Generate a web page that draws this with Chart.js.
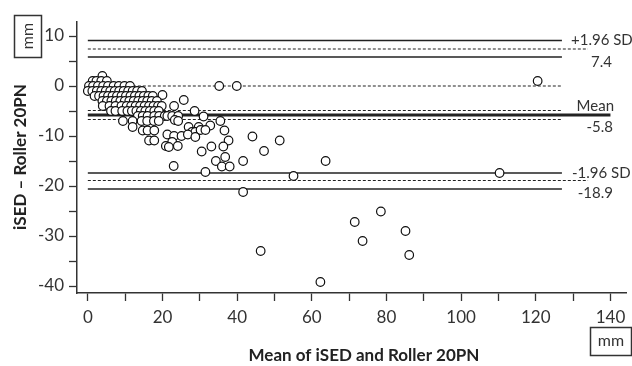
<!DOCTYPE html>
<html>
<head>
<meta charset="utf-8">
<script src="https://cdn.jsdelivr.net/npm/chart.js@4.4.1/dist/chart.umd.min.js"></script>
<style>
html,body{margin:0;padding:0;background:#fff;}
#wrap{width:632px;height:366px;}
</style>
</head>
<body>
<div id="wrap"><canvas id="baChart" width="632" height="366"></canvas></div>
<script>
// 측정값 (mean, difference)
const meanVals = [
	3.9,
	1.3,2.3,3.6,5.1,120.5,
	0.3,1.4,2.7,4.1,5.4,6.9,8.3,9.8,11.3,35.2,39.9,
	0.0,1.2,2.4,3.6,4.8,6.0,7.2,8.4,9.6,10.8,12.0,13.2,14.5,
	1.8,3.0,4.2,5.4,6.6,7.8,9.0,10.2,11.4,12.6,13.8,15.0,16.2,17.4,20.0,
	3.9,5.1,6.3,7.5,8.7,9.9,11.1,12.3,13.5,14.7,15.9,17.1,18.5,25.7,
	4.0,5.8,7.4,9.0,10.4,11.6,12.8,14.0,15.2,16.4,17.6,18.8,19.8,23.1,
	6.2,7.4,9.2,10.6,11.8,13.0,14.2,15.4,16.6,17.8,19.0,28.6,
	13.4,14.7,16.0,17.8,19.1,20.6,21.3,22.6,24.2,31.0,
	9.4,12.0,14.4,15.9,17.7,19.0,23.3,24.2,35.5,
	12.0,27.0,29.7,32.8,
	14.7,16.0,17.8,27.9,28.8,30.2,31.5,36.6,
	21.3,23.1,25.1,26.8,28.8,44.1,
	16.4,17.8,22.6,37.7,51.4,
	20.9,21.7,24.1,33.1,36.3,
	30.5,47.2,36.8,
	34.3,41.6,63.7,
	23.0,35.9,38.0,
	31.5,110.3,55.1,41.6,
	78.5,71.5,85.1,73.6,46.3,86.1,62.3
];
const diffVals = [
	2,
	1,1,1,1,1,
	0,0,0,0,0,0,0,0,0,0,0,
	-1,-1,-1,-1,-1,-1,-1,-1,-1,-1,-1,-1,-1,
	-2,-2,-2,-2,-2,-2,-2,-2,-2,-2,-2,-2,-2,-2,-1.8,
	-3,-3,-3,-3,-3,-3,-3,-3,-3,-3,-3,-3,-3,-2.8,
	-4,-4,-4,-4,-4,-4,-4,-4,-4,-4,-4,-4,-4,-4,
	-5,-5,-5,-5,-5,-5,-5,-5,-5,-5,-5,-5,
	-6,-6,-6,-6,-6,-6,-6,-6,-6,-6.1,
	-7,-7,-7,-7,-7,-7,-6.8,-7,-7,
	-8.2,-8.2,-8.2,-7.9,
	-8.9,-8.9,-8.9,-9.2,-9.2,-8.8,-8.8,-8.9,
	-9.7,-10,-10,-9.7,-10.2,-10.1,
	-10.9,-10.9,-11.2,-10.9,-10.9,
	-12,-12.2,-12,-12.1,-12.1,
	-13.1,-13,-14.2,
	-15,-15,-15,
	-16,-16.1,-16.1,
	-17.2,-17.4,-18,-21.2,
	-25.1,-27.2,-29,-31,-33,-33.8,-39.2
];

// 기준선 값
const meanDiff = -5.8;
const meanCI = [-4.9, -6.7];
const upperLoA = 7.4;
const upperCI = [9.1, 5.8];
const lowerLoA = -18.9;
const lowerCI = [-17.4, -20.6];
const zeroLine = 0;
// 기준선 x 범위
const ciEnd = 127;
const loaEnd = 134;
const meanEnd = 140;

let points = [];
for(let i = 0; i < meanVals.length; i++){
	points.push({x: meanVals[i], y: diffVals[i]});
}

let refLine = function(value, xEnd, width, dash){
	return {
		type: "line",
		data: [{x: 0, y: value}, {x: xEnd, y: value}],
		borderColor: "#222",
		borderWidth: width,
		borderDash: dash,
		pointRadius: 0,
		fill: false,
		order: 1
	};
}

// 텍스트, 단위 박스
let labelPlugin = {
	id: "labels",
	afterDraw: function(chart){
		let ctx = chart.ctx;
		let y = chart.scales.y;
		ctx.save();
		ctx.fillStyle = "#333";
		ctx.font = "15px Lato";
		ctx.textBaseline = "middle";
		ctx.textAlign = "left";
		ctx.fillText("+1.96 SD", 571, y.getPixelForValue(upperCI[0]));
		ctx.fillText("-1.96 SD", 572, y.getPixelForValue(lowerCI[0]));
		ctx.textAlign = "right";
		ctx.fillText(upperLoA.toFixed(1), 612, y.getPixelForValue(upperCI[1]) + 5);
		ctx.fillText("Mean", 614, y.getPixelForValue(meanDiff) - 9);
		ctx.fillText(meanDiff.toFixed(1), 613, y.getPixelForValue(meanDiff) + 12);
		ctx.fillText(lowerLoA.toFixed(1), 613, y.getPixelForValue(lowerCI[1]) + 4);

		// 축 제목
		ctx.fillStyle = "#222";
		ctx.font = "bold 17px Lato";
		ctx.textAlign = "center";
		ctx.fillText("Mean of iSED and Roller 20PN", 364, 356);
		ctx.save();
		ctx.translate(21, 157);
		ctx.rotate(-Math.PI / 2);
		ctx.fillText("iSED \u2013 Roller 20PN", 0, 0);
		ctx.restore();

		// mm 박스
		ctx.strokeStyle = "#333";
		ctx.lineWidth = 1.5;
		ctx.font = "16px Lato";
		ctx.fillStyle = "#333";
		ctx.strokeRect(14.5, 15.5, 27, 42);
		ctx.save();
		ctx.translate(28, 36);
		ctx.rotate(-Math.PI / 2);
		ctx.fillText("mm", 0, 0);
		ctx.restore();
		ctx.strokeRect(590.5, 327.5, 41, 28);
		ctx.fillText("mm", 611, 341);
		ctx.restore();
	}
};

let ctx = document.getElementById("baChart").getContext("2d");
let baChart = new Chart(ctx, {
	type: "scatter",
	data: {
		datasets: [
			{
				data: points,
				backgroundColor: "#fff",
				borderColor: "#111",
				borderWidth: 1.2,
				pointRadius: 4.3,
				order: 0
			},
			refLine(upperCI[0], ciEnd, 1.5, []),
			refLine(upperLoA, loaEnd, 1.2, [3, 2]),
			refLine(upperCI[1], ciEnd, 1.5, []),
			refLine(zeroLine, ciEnd, 1.1, [3, 2]),
			refLine(meanCI[0], ciEnd, 1.1, [3, 2]),
			refLine(meanDiff, meanEnd, 3, []),
			refLine(meanCI[1], ciEnd, 1.1, [3, 2]),
			refLine(lowerCI[0], ciEnd, 1.5, []),
			refLine(lowerLoA, loaEnd, 1.2, [3, 2]),
			refLine(lowerCI[1], ciEnd, 1.5, [])
		]
	},
	options: {
		responsive: false,
		animation: false,
		devicePixelRatio: 1,
		layout: {padding: {top: 22, left: 0, right: 0, bottom: 0}},
		plugins: {legend: {display: false}, tooltip: {enabled: false}},
		scales: {
			x: {
				type: "linear",
				min: -2.9,
				max: 144.3,
				afterFit: function(scale){ scale.height = 73; },
				border: {display: true, color: "#333", width: 1.5},
				grid: {drawOnChartArea: false, drawTicks: true, tickLength: 8, color: "#333", tickWidth: 1.3},
				ticks: {
					stepSize: 10,
					includeBounds: false,
					maxRotation: 0,
					autoSkip: false,
					padding: 6,
					color: "#333",
					font: {family: "Lato", size: 17},
					callback: function(v){ return v % 20 === 0 ? v : ""; }
				}
			},
			y: {
				type: "linear",
				min: -41.4,
				max: 12.8,
				afterFit: function(scale){ scale.width = 77; },
				border: {display: true, color: "#333", width: 1.5},
				grid: {drawOnChartArea: false, drawTicks: true, tickLength: 8, color: "#333", tickWidth: 1.3},
				ticks: {
					stepSize: 5,
					includeBounds: false,
					autoSkip: false,
					padding: 5,
					color: "#333",
					font: {family: "Lato", size: 17},
					callback: function(v){ return v % 10 === 0 ? v : ""; }
				}
			}
		}
	},
	plugins: [labelPlugin]
});
</script>
</body>
</html>
